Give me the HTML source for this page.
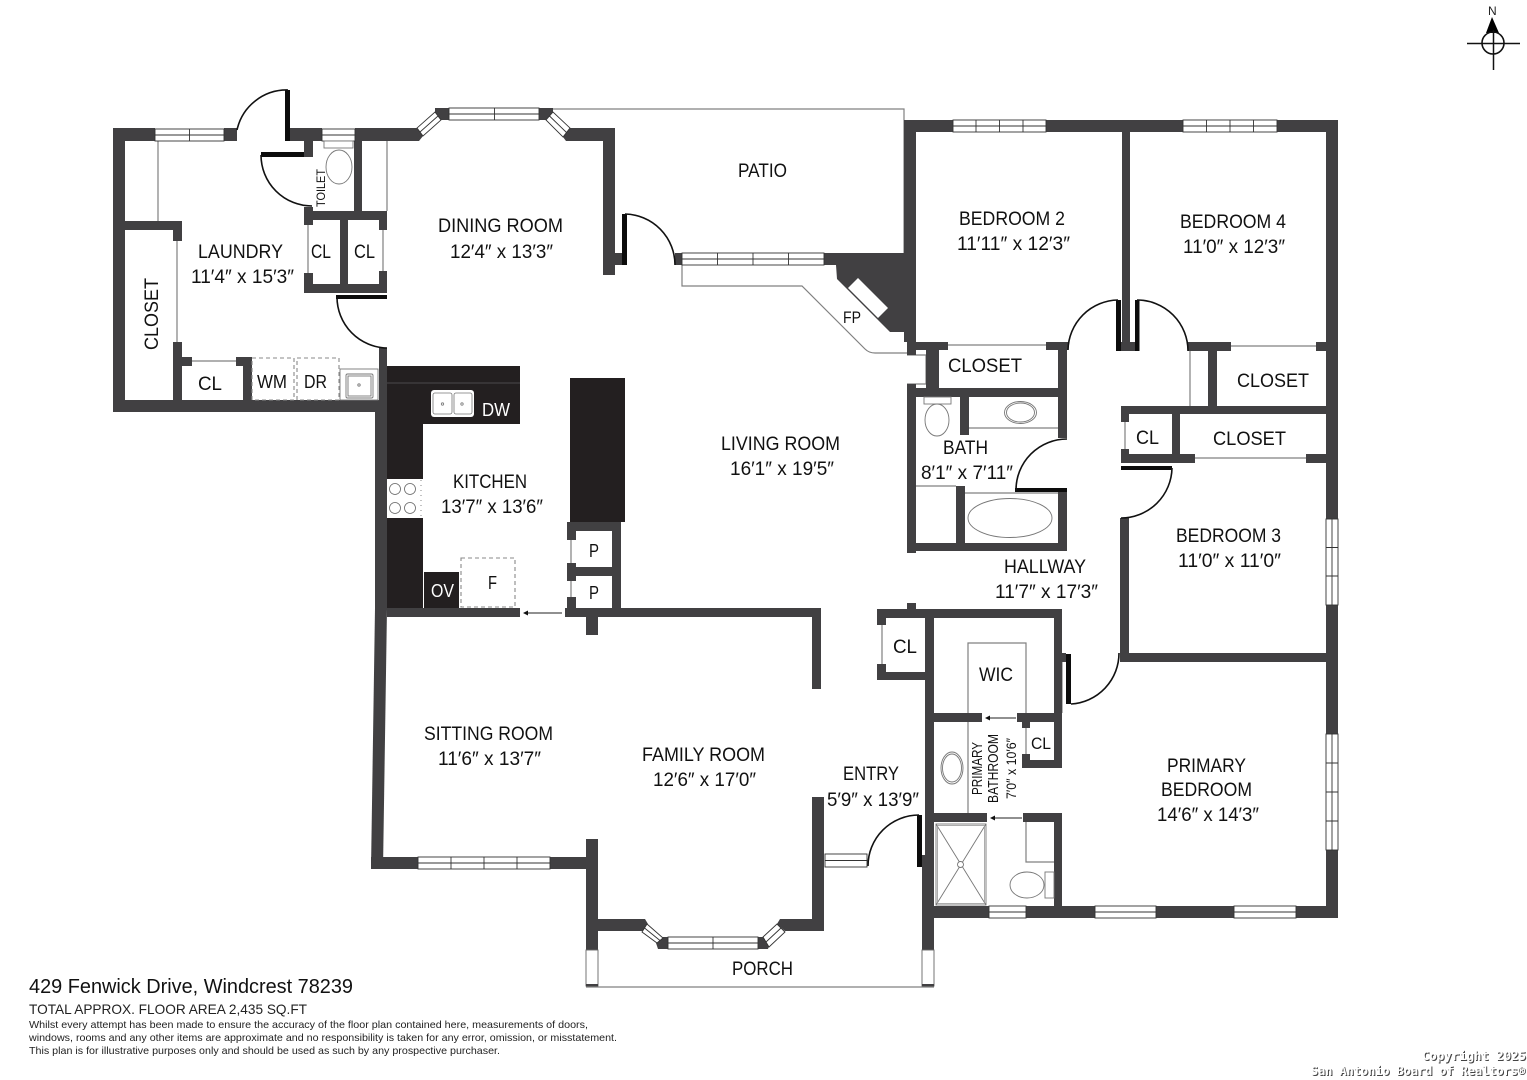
<!DOCTYPE html>
<html><head><meta charset="utf-8"><style>
html,body{margin:0;padding:0;background:#fff;width:1527px;height:1080px;overflow:hidden}
svg{display:block}
text{font-family:"Liberation Sans",sans-serif;fill:#111;text-anchor:start}
.t{font-size:19.5px}
.m{font-family:"DejaVu Sans Mono","Liberation Mono",monospace;font-weight:bold;font-size:12.5px}
</style></head><body>
<svg width="1527" height="1080" viewBox="0 0 1527 1080" xmlns="http://www.w3.org/2000/svg">
<rect width="1527" height="1080" fill="#fff"/>

<!-- thin lines -->
<g fill="none" stroke="#808080" stroke-width="1.2">
<path d="M553 109H904V253"/>
<path d="M682 265V286H802L865 349Q869 353 875 353H907"/>
<path d="M158 141V221M177 241V342M192 361H236M308 225V273M383 230V271M387 141V211"/>
<path d="M948 345H1046M1190 351V407M1231 346H1316M1125 422V449M1195 458H1306"/>
<path d="M969 428H1058M916 486H956M965 493H1058M882 625V664"/>
<path d="M968 713V643H1026V713M1026 728V754M968 722V813M571 540V563M571 581V597"/>
<path d="M1026 822V862H1054M907 355H926V384H907" />
<path d="M1062 662V713"/>
</g>

<!-- walls -->
<g fill="#414042">
<!-- laundry block -->
<rect x="113" y="128" width="12" height="284"/>
<rect x="113" y="128" width="42" height="13"/>
<rect x="224" y="128" width="13" height="13"/>
<rect x="285" y="128" width="37" height="13"/>
<polygon points="355,128 417,128 423,136 419,141 355,141"/>
<rect x="113" y="400" width="266" height="12"/>
<rect x="125" y="221" width="57" height="9"/>
<rect x="173" y="221" width="9" height="20"/>
<rect x="173" y="342" width="9" height="60"/>
<rect x="182" y="357" width="10" height="9"/>
<rect x="236" y="357" width="16" height="9"/>
<rect x="243" y="357" width="9" height="44"/>
<rect x="304" y="141" width="9" height="16"/>
<rect x="304" y="207" width="9" height="18"/>
<rect x="354" y="141" width="8" height="71"/>
<rect x="304" y="211" width="83" height="9"/>
<rect x="340" y="220" width="8" height="64"/>
<rect x="304" y="284" width="83" height="9"/>
<rect x="304" y="273" width="9" height="20"/>
<rect x="379" y="220" width="8" height="10"/>
<rect x="379" y="271" width="8" height="22"/>
<rect x="379" y="348" width="8" height="60"/>
<rect x="375" y="400" width="12" height="210"/>
<!-- dining right -->
<polygon points="570,128 614,128 614,141 566,141 563,137"/>
<rect x="603" y="128" width="12" height="147"/>
<rect x="615" y="253" width="7" height="12"/>
<rect x="675" y="253" width="7" height="12"/>
<polygon points="435,108 449,108 449,120 441,120 435,112"/>
<polygon points="539,108 553,108 553,112 546,120 539,120"/>
<!-- fireplace mass -->
<polygon points="824,253 904,253 916,253 916,340 907,340 907,332 890,332 837,279 836,265 824,265"/>
<!-- right block -->
<rect x="904" y="120" width="12" height="222"/>
<rect x="904" y="120" width="49" height="12"/>
<rect x="1046" y="120" width="137" height="12"/>
<rect x="1277" y="120" width="61" height="12"/>
<rect x="1326" y="120" width="12" height="399"/>
<rect x="1326" y="605" width="12" height="129"/>
<rect x="1326" y="850" width="12" height="68"/>
<rect x="1122" y="132" width="8" height="212"/>
<rect x="1121" y="342" width="14" height="9"/>
<rect x="1188" y="342" width="43" height="9"/>
<rect x="1316" y="342" width="11" height="9"/>
<rect x="1208" y="351" width="9" height="56"/>
<rect x="1121" y="406" width="206" height="8"/>
<rect x="1121" y="414" width="8" height="8"/>
<rect x="1121" y="449" width="8" height="14"/>
<rect x="1172" y="414" width="8" height="49"/>
<rect x="1121" y="454" width="74" height="9"/>
<rect x="1306" y="454" width="21" height="9"/>
<rect x="1120" y="518" width="9" height="144"/>
<rect x="1120" y="653" width="207" height="9"/>
<!-- closet / bath -->
<rect x="907" y="340" width="9" height="15"/>
<rect x="907" y="342" width="41" height="8"/>
<rect x="1046" y="342" width="22" height="8"/>
<rect x="926" y="350" width="13" height="48"/>
<rect x="907" y="384" width="9" height="169"/>
<rect x="907" y="388" width="160" height="9"/>
<rect x="1058" y="342" width="9" height="96"/>
<rect x="1058" y="492" width="9" height="59"/>
<rect x="907" y="543" width="160" height="8"/>
<rect x="960" y="397" width="9" height="38"/>
<rect x="956" y="486" width="9" height="59"/>
<!-- primary suite -->
<rect x="877" y="609" width="185" height="9"/>
<rect x="907" y="603" width="9" height="6"/>
<rect x="877" y="609" width="9" height="16"/>
<rect x="877" y="664" width="9" height="16"/>
<rect x="877" y="672" width="48" height="8"/>
<rect x="925" y="609" width="9" height="248"/>
<rect x="922" y="855" width="12" height="95"/>
<rect x="1054" y="609" width="8" height="159"/>
<rect x="1062" y="653" width="4" height="9"/>
<rect x="934" y="713" width="48" height="9"/>
<rect x="1017" y="713" width="37" height="9"/>
<rect x="1022" y="722" width="8" height="6"/>
<rect x="1022" y="754" width="8" height="14"/>
<rect x="1022" y="760" width="40" height="8"/>
<rect x="934" y="813" width="53" height="9"/>
<rect x="1023" y="813" width="39" height="9"/>
<rect x="1054" y="813" width="8" height="100"/>
<rect x="922" y="906" width="67" height="12"/>
<rect x="1026" y="906" width="69" height="12"/>
<rect x="1156" y="906" width="78" height="12"/>
<rect x="1296" y="906" width="42" height="12"/>
<!-- kitchen / pantry -->
<rect x="387" y="608" width="133" height="9"/>
<rect x="565" y="608" width="256" height="9"/>
<rect x="586" y="617" width="12" height="18"/>
<rect x="812" y="608" width="9" height="81"/>
<rect x="612" y="522" width="9" height="86"/>
<rect x="567" y="522" width="54" height="9"/>
<rect x="567" y="522" width="9" height="18"/>
<rect x="567" y="563" width="9" height="18"/>
<rect x="567" y="597" width="9" height="20"/>
<rect x="567" y="567" width="54" height="9"/>
<!-- sitting / family -->
<polygon points="375,608 387,608 383,869 371,869"/>
<rect x="371" y="857" width="47" height="12"/>
<rect x="550" y="857" width="48" height="12"/>
<rect x="586" y="839" width="12" height="111"/>
<rect x="598" y="919" width="47" height="12"/>
<polygon points="645,919 648,924 642,931 598,931 598,919"/>
<polygon points="663,937 668,937 668,949 658,949 656,943"/>
<polygon points="758,937 763,937 770,943 768,949 758,949"/>
<polygon points="780,919 824,919 824,931 785,931 777,924"/>
<rect x="812" y="797" width="12" height="134"/>
</g>

<!-- kitchen counters -->
<g fill="#231f20">
<rect x="387" y="366" width="133" height="58"/>
<rect x="387" y="366" width="36" height="242"/>
<rect x="424" y="572" width="35" height="36"/>
<rect x="570" y="378" width="55" height="144"/>
</g>
<line x1="387" y1="383" x2="520" y2="383" stroke="#5a5a5a" stroke-width="0.8"/>

<!-- black door leaves -->
<g fill="#0c0c0c">
<rect x="285" y="90" width="5" height="51"/>
<rect x="261" y="152" width="43" height="5"/>
<rect x="336" y="295" width="51" height="4"/>
<rect x="622" y="214" width="5" height="51"/>
<rect x="1116" y="300" width="5" height="51"/>
<rect x="1135" y="300" width="4.500" height="51"/>
<rect x="1015" y="488" width="52" height="4"/>
<rect x="1121" y="466" width="51" height="4"/>
<rect x="1066" y="654" width="5" height="50"/>
<rect x="917" y="815" width="5" height="52"/>
</g>
<!-- door arcs -->
<g fill="none" stroke="#111" stroke-width="1.6">
<path d="M237 130A51 51 0 0 1 288 90"/>
<path d="M261 155A51 51 0 0 0 312 206"/>
<path d="M337 297A51 51 0 0 0 387 348"/>
<path d="M625 214A51 51 0 0 1 675 265"/>
<path d="M1068 350A51 51 0 0 1 1118 300"/>
<path d="M1137 300A51 51 0 0 1 1188 351"/>
<path d="M1016 490A51 51 0 0 1 1067 439"/>
<path d="M1172 468A51 51 0 0 1 1121 518"/>
<path d="M1071 704A51 51 0 0 0 1119 653"/>
<path d="M919 815A51 51 0 0 0 868 866"/>
</g>

<!-- windows -->
<g fill="#fff" stroke="#333" stroke-width="0.9">
<rect x="155" y="129" width="69" height="12"/><path d="M155 135H224M189.500 129V141"/>
<rect x="322" y="129" width="33" height="12"/><path d="M322 135H355"/>
<polygon points="435,112 441,120 423,136 417,128"/><path d="M438 116L420 132"/>
<rect x="449" y="108" width="90" height="12"/><path d="M449 114H539M494.500 108V120"/>
<polygon points="553,112 546,120 563,137 570,128"/><path d="M549.500 116L566.500 132.500"/>
<rect x="682" y="253" width="142" height="12"/><path d="M682 259H824M717.500 253V265M753 253V265M788.500 253V265"/>
<rect x="953" y="120" width="93" height="12"/><path d="M953 126H1046M976 120V132M999.500 120V132M1023 120V132"/>
<rect x="1183" y="120" width="94" height="12"/><path d="M1183 126H1277M1206.500 120V132M1230 120V132M1253.500 120V132"/>
<rect x="1326" y="519" width="12" height="86"/><path d="M1332 519V605M1326 547.500H1338M1326 576H1338"/>
<rect x="1326" y="734" width="12" height="116"/><path d="M1332 734V850M1326 763H1338M1326 792H1338M1326 821H1338"/>
<rect x="989" y="906" width="37" height="12"/><path d="M989 912H1026"/>
<rect x="1095" y="906" width="61" height="12"/><path d="M1095 912H1156"/>
<rect x="1234" y="906" width="62" height="12"/><path d="M1234 912H1296"/>
<rect x="418" y="857" width="132" height="12"/><path d="M418 863H550M451 857V869M484 857V869M517 857V869"/>
<rect x="825" y="854" width="42" height="13"/><path d="M825 860.500H867"/>
<polygon points="647,924 663,938 657,943 642,932"/><path d="M644.500 928L660 940.500"/>
<rect x="668" y="937" width="90" height="12"/><path d="M668 943H758M713 937V949"/>
<polygon points="777,924 785,932 769,947 763,937"/><path d="M781 928L766 942"/>
<rect x="586" y="950" width="12" height="36" stroke="#666"/>
<rect x="922" y="950" width="12" height="36" stroke="#666"/>
</g>
<rect x="586" y="984" width="12" height="3" fill="#414042"/>
<rect x="922" y="984" width="12" height="3" fill="#414042"/>
<line x1="586" y1="987" x2="934" y2="987" stroke="#808080" stroke-width="1.2"/>

<!-- fireplace insert -->
<polygon points="858,278 888,308 878,318 848,288" fill="#fff"/>

<!-- fixtures -->
<g fill="#fff" stroke="#777" stroke-width="0.9">
<!-- toilet room -->
<rect x="324" y="141" width="29" height="7"/><ellipse cx="339" cy="167" rx="13" ry="17"/>
<!-- utility sink -->
<rect x="340" y="369" width="38" height="31"/><rect x="346" y="374" width="27" height="24" rx="1.500"/><rect x="348" y="376" width="23" height="20"/>
<circle cx="359" cy="385" r="1.200"/>
<!-- bath -->
<rect x="924" y="397" width="27" height="7"/><ellipse cx="937" cy="420" rx="12" ry="16"/>
<ellipse cx="1020.500" cy="412.500" rx="16" ry="11"/><ellipse cx="1020.500" cy="412.500" rx="14" ry="9.500"/>
<ellipse cx="1010" cy="518" rx="42" ry="19.500"/>
<!-- primary bath -->
<ellipse cx="952" cy="768" rx="11" ry="16"/><ellipse cx="952" cy="768" rx="9.500" ry="14"/>
<rect x="936" y="824" width="50" height="81"/>
<path d="M936 824L986 905M986 824L936 905" fill="none"/>
<circle cx="960.500" cy="864.500" r="3"/>
<rect x="1045" y="872" width="9" height="26"/>
<ellipse cx="1027" cy="885" rx="17" ry="13"/>
</g>
<rect x="937.500" y="825.500" width="47" height="78" fill="none" stroke="#999" stroke-width="0.8"/>
<!-- kitchen sink -->
<rect x="431" y="390" width="43" height="27" rx="3" fill="#fff"/>
<g fill="none" stroke="#777" stroke-width="0.8">
<rect x="433" y="393" width="19" height="21" rx="2"/><rect x="454" y="393" width="18" height="21" rx="2"/>
<circle cx="442.500" cy="404" r="1.200"/><circle cx="462" cy="404" r="1.200"/>
</g>
<!-- stove -->
<rect x="387" y="479" width="36" height="39" fill="#fff"/>
<g fill="none" stroke="#666" stroke-width="0.8">
<circle cx="395" cy="489" r="5.500"/><circle cx="410" cy="489" r="5.500"/>
<circle cx="395" cy="508" r="5.500"/><circle cx="410" cy="508" r="5.500"/>
<path d="M421 480V517" stroke-dasharray="1 4"/>
</g>
<!-- dashed appliances -->
<g fill="#fff" stroke="#888" stroke-width="1.1" stroke-dasharray="4 3">
<rect x="252" y="358" width="42" height="42"/>
<rect x="297" y="358" width="42" height="42"/>
<rect x="461" y="558" width="54" height="49"/>
</g>

<!-- arrows -->
<g stroke="#222" stroke-width="0.9" fill="#111">
<line x1="562" y1="613" x2="526" y2="613"/><polygon points="523,613 528,610.500 528,615.500" stroke="none"/>
<line x1="1016" y1="718" x2="988" y2="718"/><polygon points="985,718 990,715.500 990,720.500" stroke="none"/>
<line x1="1022" y1="818" x2="993" y2="818"/><polygon points="990,818 995,815.500 995,820.500" stroke="none"/>
</g>

<!-- labels -->
<g class="t" font-size="19.500">
<text x="738" y="177" textLength="49" lengthAdjust="spacingAndGlyphs">PATIO</text>
<text x="438" y="232" textLength="125" lengthAdjust="spacingAndGlyphs">DINING ROOM</text>
<text x="450" y="258" textLength="103" lengthAdjust="spacingAndGlyphs">12′4″ x 13′3″</text>
<text x="198" y="258" textLength="85" lengthAdjust="spacingAndGlyphs">LAUNDRY</text>
<text x="191" y="283" textLength="103" lengthAdjust="spacingAndGlyphs">11′4″ x 15′3″</text>
<text transform="translate(158 350) rotate(-90)" textLength="72" lengthAdjust="spacingAndGlyphs">CLOSET</text>
<text x="311" y="258" textLength="20" lengthAdjust="spacingAndGlyphs">CL</text>
<text x="354" y="258" textLength="21" lengthAdjust="spacingAndGlyphs">CL</text>
<text x="198" y="390" textLength="24" lengthAdjust="spacingAndGlyphs">CL</text>
<text x="257" y="388" font-size="18" textLength="30" lengthAdjust="spacingAndGlyphs">WM</text>
<text x="304" y="388" font-size="18" textLength="23" lengthAdjust="spacingAndGlyphs">DR</text>
<text x="482" y="416" font-size="18" style="fill:#fff" textLength="28" lengthAdjust="spacingAndGlyphs">DW</text>
<text x="453" y="488" textLength="74" lengthAdjust="spacingAndGlyphs">KITCHEN</text>
<text x="441" y="513" textLength="102" lengthAdjust="spacingAndGlyphs">13′7″ x 13′6″</text>
<text x="431" y="597" font-size="18" style="fill:#fff" textLength="23" lengthAdjust="spacingAndGlyphs">OV</text>
<text x="488" y="589" font-size="18" textLength="9" lengthAdjust="spacingAndGlyphs">F</text>
<text x="589" y="557" font-size="18" textLength="10" lengthAdjust="spacingAndGlyphs">P</text>
<text x="589" y="599" font-size="18" textLength="10" lengthAdjust="spacingAndGlyphs">P</text>
<text x="721" y="450" textLength="119" lengthAdjust="spacingAndGlyphs">LIVING ROOM</text>
<text x="730" y="475" textLength="104" lengthAdjust="spacingAndGlyphs">16′1″ x 19′5″</text>
<text x="843" y="323" font-size="17" textLength="18" lengthAdjust="spacingAndGlyphs">FP</text>
<text x="959" y="225" textLength="106" lengthAdjust="spacingAndGlyphs">BEDROOM 2</text>
<text x="957" y="250" textLength="113" lengthAdjust="spacingAndGlyphs">11′11″ x 12′3″</text>
<text x="1180" y="228" textLength="106" lengthAdjust="spacingAndGlyphs">BEDROOM 4</text>
<text x="1183" y="253" textLength="102" lengthAdjust="spacingAndGlyphs">11′0″ x 12′3″</text>
<text x="948" y="372" textLength="74" lengthAdjust="spacingAndGlyphs">CLOSET</text>
<text x="1237" y="387" textLength="72" lengthAdjust="spacingAndGlyphs">CLOSET</text>
<text x="1136" y="444" textLength="23" lengthAdjust="spacingAndGlyphs">CL</text>
<text x="1213" y="445" textLength="73" lengthAdjust="spacingAndGlyphs">CLOSET</text>
<text x="943" y="454" textLength="45" lengthAdjust="spacingAndGlyphs">BATH</text>
<text x="921" y="479" textLength="92" lengthAdjust="spacingAndGlyphs">8′1″ x 7′11″</text>
<text x="1176" y="542" textLength="105" lengthAdjust="spacingAndGlyphs">BEDROOM 3</text>
<text x="1178" y="567" textLength="103" lengthAdjust="spacingAndGlyphs">11′0″ x 11′0″</text>
<text x="1004" y="573" textLength="82" lengthAdjust="spacingAndGlyphs">HALLWAY</text>
<text x="995" y="598" textLength="103" lengthAdjust="spacingAndGlyphs">11′7″ x 17′3″</text>
<text x="893" y="653" textLength="24" lengthAdjust="spacingAndGlyphs">CL</text>
<text x="979" y="681" textLength="34" lengthAdjust="spacingAndGlyphs">WIC</text>
<text x="1031" y="749" font-size="17" textLength="20" lengthAdjust="spacingAndGlyphs">CL</text>
<text transform="translate(982 795) rotate(-90)" font-size="15" textLength="53" lengthAdjust="spacingAndGlyphs">PRIMARY</text>
<text transform="translate(998 803) rotate(-90)" font-size="15" textLength="69" lengthAdjust="spacingAndGlyphs">BATHROOM</text>
<text transform="translate(1016 799) rotate(-90)" font-size="14" textLength="61" lengthAdjust="spacingAndGlyphs">7′0″ x 10′6″</text>
<text x="843" y="780" textLength="56" lengthAdjust="spacingAndGlyphs">ENTRY</text>
<text x="827" y="806" textLength="92" lengthAdjust="spacingAndGlyphs">5′9″ x 13′9″</text>
<text x="424" y="740" textLength="129" lengthAdjust="spacingAndGlyphs">SITTING ROOM</text>
<text x="438" y="765" textLength="103" lengthAdjust="spacingAndGlyphs">11′6″ x 13′7″</text>
<text x="642" y="761" textLength="123" lengthAdjust="spacingAndGlyphs">FAMILY ROOM</text>
<text x="653" y="786" textLength="103" lengthAdjust="spacingAndGlyphs">12′6″ x 17′0″</text>
<text x="1167" y="772" textLength="79" lengthAdjust="spacingAndGlyphs">PRIMARY</text>
<text x="1161" y="796" textLength="91" lengthAdjust="spacingAndGlyphs">BEDROOM</text>
<text x="1157" y="821" textLength="102" lengthAdjust="spacingAndGlyphs">14′6″ x 14′3″</text>
<text x="732" y="975" textLength="61" lengthAdjust="spacingAndGlyphs">PORCH</text>
<text transform="translate(325 207) rotate(-90)" font-size="12" textLength="38" lengthAdjust="spacingAndGlyphs">TOILET</text>
</g>

<!-- footer -->
<text x="29" y="993" font-size="20.500" textLength="324" lengthAdjust="spacingAndGlyphs">429 Fenwick Drive, Windcrest 78239</text>
<text x="29" y="1014" font-size="14" style="fill:#222" textLength="278" lengthAdjust="spacingAndGlyphs">TOTAL APPROX. FLOOR AREA 2,435 SQ.FT</text>
<text x="29" y="1028" font-size="10.500" style="fill:#222" textLength="559" lengthAdjust="spacingAndGlyphs">Whilst every attempt has been made to ensure the accuracy of the floor plan contained here, measurements of doors,</text>
<text x="29" y="1041" font-size="10.500" style="fill:#222" textLength="588" lengthAdjust="spacingAndGlyphs">windows, rooms and any other items are approximate and no responsibility is taken for any error, omission, or misstatement.</text>
<text x="29" y="1054" font-size="10.500" style="fill:#222" textLength="471" lengthAdjust="spacingAndGlyphs">This plan is for illustrative purposes only and should be used as such by any prospective purchaser.</text>

<!-- copyright: embossed watermark, dark shadow under white -->
<text class="m" x="1423" y="1061" style="fill:#444" textLength="104" lengthAdjust="spacingAndGlyphs">Copyright 2025</text>
<text class="m" x="1312" y="1076" style="fill:#444" textLength="214" lengthAdjust="spacingAndGlyphs">San Antonio Board of Realtors®</text>
<text class="m" x="1422" y="1060" style="fill:#fff" textLength="104" lengthAdjust="spacingAndGlyphs">Copyright 2025</text>
<text class="m" x="1311" y="1075" style="fill:#fff" textLength="214" lengthAdjust="spacingAndGlyphs">San Antonio Board of Realtors®</text>

<!-- north arrow -->
<text x="1488" y="15" font-size="12" style="fill:#222">N</text>
<polygon points="1492,17 1486,33 1499,33" fill="#000"/>
<circle cx="1493" cy="43" r="11" fill="none" stroke="#111" stroke-width="1.600"/>
<path d="M1467 43.500H1520M1493.500 30V70" stroke="#111" stroke-width="1.500" fill="none"/>
</svg>
</body></html>
